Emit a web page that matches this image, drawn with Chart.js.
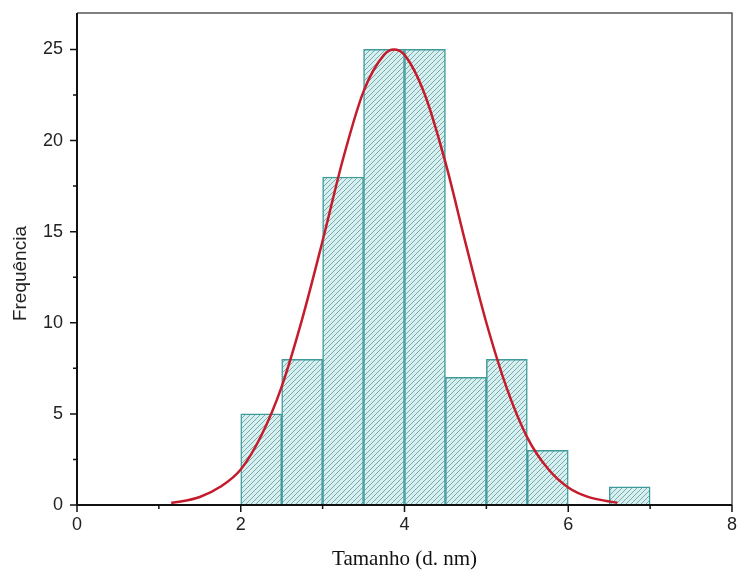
<!DOCTYPE html>
<html>
<head>
<meta charset="utf-8">
<script src="https://cdn.jsdelivr.net/npm/chart.js@4/dist/chart.umd.min.js"></script>
<style>
  html, body { margin: 0; padding: 0; background: #fff; }
  #wrap { width: 740px; height: 573px; }
</style>
</head>
<body>
<div id="wrap"><canvas id="histChart" width="740" height="573"></canvas></div>
<script>
// histogram bins (centre of each 0.5 nm bin) and counts
const binCentres = [2.25, 2.75, 3.25, 3.75, 4.25, 4.75, 5.25, 5.75, 6.25, 6.75];
const counts = [5, 8, 18, 25, 25, 7, 8, 3, 0, 1];

// fitted curve
const curveX = [1.15, 1.25, 1.5, 1.75, 2.0, 2.25, 2.5, 2.75, 3.0, 3.25, 3.5, 3.75, 3.87,
                4.0, 4.25, 4.5, 4.75, 5.0, 5.25, 5.5, 5.75, 6.0, 6.25, 6.6];
const curveY = [0.12, 0.18, 0.44, 1.0, 1.95, 3.8, 6.5, 10.2, 14.5, 19.0, 22.7, 24.7, 25.0,
                24.7, 22.5, 18.8, 14.3, 10.0, 6.4, 3.7, 2.0, 0.96, 0.43, 0.12];

const xTicks = [0, 2, 4, 6, 8];
const yTicks = [0, 5, 10, 15, 20, 25];

document.addEventListener("DOMContentLoaded", function () {
    const canvas = document.getElementById("histChart");
    const ctx = canvas.getContext("2d");

    // diagonal hatch fill for the bars
    const pc = document.createElement("canvas");
    pc.width = 5;
    pc.height = 5;
    const p = pc.getContext("2d");
    p.fillStyle = "#d5f0f0";
    p.fillRect(0, 0, 5, 5);
    p.strokeStyle = "#6a9696";
    p.lineWidth = 0.8;
    p.beginPath();
    p.moveTo(-1, 6); p.lineTo(6, -1);
    p.moveTo(-3.5, 2.5); p.lineTo(2.5, -3.5);
    p.moveTo(2.5, 7.5); p.lineTo(7.5, 2.5);
    p.stroke();
    const hatch = ctx.createPattern(pc, "repeat");

    new Chart(ctx, {
        type: "bar",
        data: {
            datasets: [
                {
                    type: "line",
                    data: curveX.map((x, i) => ({ x: x, y: curveY[i] })),
                    borderColor: "#c41c2c",
                    borderWidth: 2.5,
                    pointRadius: 0,
                    cubicInterpolationMode: "monotone",
                    fill: false,
                    order: 0,
                },
                {
                    type: "bar",
                    data: binCentres.map((x, i) => ({ x: x, y: counts[i] })),
                    backgroundColor: hatch,
                    borderColor: "#3f9a9a",
                    borderWidth: 1.5,
                    barPercentage: 1.0,
                    categoryPercentage: 1.0,
                    order: 1,
                },
            ],
        },
        options: {
            responsive: false,
            animation: false,
            layout: { padding: { top: 13, right: 8, left: 0, bottom: 0 } },
            plugins: {
                legend: { display: false },
                tooltip: { enabled: false },
            },
            scales: {
                x: {
                    type: "linear",
                    min: 0,
                    max: 8,
                    offset: false,
                    afterFit: (s) => {
                        s.height = 68;
                        s.paddingLeft = 0;
                        s.paddingRight = 0;
                    },
                    afterBuildTicks: (s) => { s.ticks = xTicks.map((v) => ({ value: v })); },
                    grid: { display: false, drawTicks: false },
                    border: { display: false },
                    ticks: {
                        padding: 9,
                        color: "#222",
                        font: { family: "Liberation Sans", size: 18 },
                        maxRotation: 0,
                    },
                    title: {
                        display: true,
                        text: "Tamanho (d. nm)",
                        color: "#111",
                        font: { family: "Liberation Serif", size: 21 },
                        padding: { top: 0, bottom: 1 },
                    },
                },
                y: {
                    min: 0,
                    max: 27,
                    afterFit: (s) => {
                        s.width = 77;
                        s.paddingTop = 0;
                        s.paddingBottom = 0;
                    },
                    afterBuildTicks: (s) => { s.ticks = yTicks.map((v) => ({ value: v })); },
                    grid: { display: false, drawTicks: false },
                    border: { display: false },
                    ticks: {
                        padding: 14,
                        color: "#222",
                        font: { family: "Liberation Sans", size: 18 },
                    },
                    title: { display: false },
                },
            },
        },
        plugins: [
            {
                id: "frameAndTicks",
                afterDraw: (chart) => {
                    const c = chart.ctx;
                    const a = chart.chartArea;
                    const xs = chart.scales.x;
                    const ys = chart.scales.y;
                    c.save();
                    // top / right frame
                    c.strokeStyle = "#555";
                    c.lineWidth = 1.5;
                    c.beginPath();
                    c.moveTo(a.left, a.top);
                    c.lineTo(a.right, a.top);
                    c.lineTo(a.right, a.bottom);
                    c.stroke();
                    // left / bottom axes
                    c.strokeStyle = "#111";
                    c.lineWidth = 2;
                    c.beginPath();
                    c.moveTo(a.left, a.top);
                    c.lineTo(a.left, a.bottom);
                    c.lineTo(a.right, a.bottom);
                    c.stroke();
                    // tick marks, major and minor, pointing out
                    c.lineWidth = 1.5;
                    c.beginPath();
                    for (let v = 0; v <= 8; v += 1) {
                        const px = xs.getPixelForValue(v);
                        const len = v % 2 === 0 ? 7 : 4;
                        c.moveTo(px, a.bottom);
                        c.lineTo(px, a.bottom + len);
                    }
                    for (let v = 0; v <= 25; v += 2.5) {
                        const py = ys.getPixelForValue(v);
                        const len = v % 5 === 0 ? 7 : 4;
                        c.moveTo(a.left, py);
                        c.lineTo(a.left - len, py);
                    }
                    c.stroke();

                    // y axis title, sits a bit below the middle in the original
                    c.translate(21, ys.getPixelForValue(12.7));
                    c.rotate(-Math.PI / 2);
                    c.textAlign = "center";
                    c.textBaseline = "middle";
                    c.fillStyle = "#222";
                    c.font = "19px 'Liberation Sans'";
                    c.fillText("Frequência", 0, 0);
                    c.restore();
                },
            },
        ],
    });
});
</script>
</body>
</html>
